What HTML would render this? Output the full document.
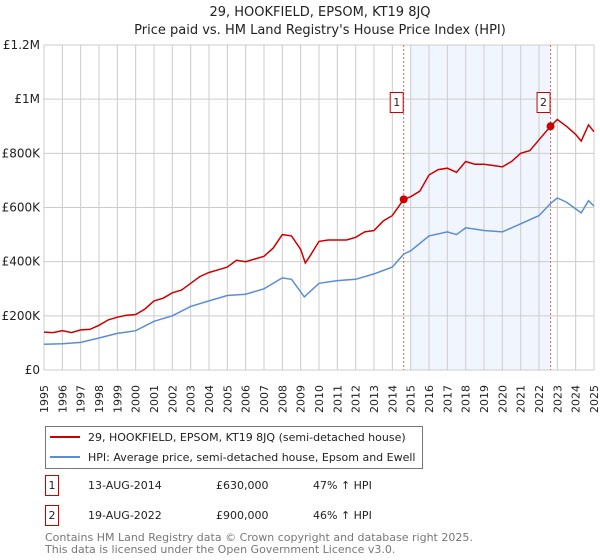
<!DOCTYPE html>
<html><head><meta charset="utf-8"><style>
body{margin:0;background:#fff;font-family:"DejaVu Sans","Liberation Sans",sans-serif}
svg{display:block}
</style></head><body>
<svg id="c" width="600" height="560" xmlns="http://www.w3.org/2000/svg">
<text x="320" y="16" text-anchor="middle" font-size="13" fill="#222">29, HOOKFIELD, EPSOM, KT19 8JQ</text>
<text x="320" y="34" text-anchor="middle" font-size="13" fill="#222">Price paid vs. HM Land Registry's House Price Index (HPI)</text>
<g id="plot"></g>
<g>
<rect x="45.5" y="426.5" width="377" height="42" fill="#fff" stroke="#777"/>
<line x1="50" y1="437" x2="80" y2="437" stroke="#cc0000" stroke-width="2"/>
<text x="88" y="441" font-size="11" fill="#222">29, HOOKFIELD, EPSOM, KT19 8JQ (semi-detached house)</text>
<line x1="50" y1="457" x2="80" y2="457" stroke="#5b8dd6" stroke-width="2"/>
<text x="88" y="461" font-size="11" fill="#222">HPI: Average price, semi-detached house, Epsom and Ewell</text>
</g>
<g font-size="11" fill="#222">
<rect x="45.5" y="475.5" width="13" height="20" fill="#fff" stroke="#cc0000"/>
<text x="52" y="489" text-anchor="middle">1</text>
<text x="88" y="489">13-AUG-2014</text><text x="216" y="489">£630,000</text><text x="313" y="489">47% ↑ HPI</text>
<rect x="45.5" y="505.5" width="13" height="20" fill="#fff" stroke="#cc0000"/>
<text x="52" y="519" text-anchor="middle">2</text>
<text x="88" y="519">19-AUG-2022</text><text x="216" y="519">£900,000</text><text x="313" y="519">46% ↑ HPI</text>
</g>
<text x="45" y="541" font-size="11" fill="#777">Contains HM Land Registry data © Crown copyright and database right 2025.</text>
<text x="45" y="553" font-size="11" fill="#777">This data is licensed under the Open Government Licence v3.0.</text>
</svg>
<script>
const redX=[1995,1995.5,1996,1996.5,1997,1997.5,1998,1998.5,1999,1999.5,2000,2000.5,2001,2001.5,2002,2002.5,2003,2003.5,2004,2004.5,2005,2005.5,2006,2006.5,2007,2007.5,2008,2008.5,2009,2009.25,2009.5,2010,2010.5,2011,2011.5,2012,2012.5,2013,2013.5,2014,2014.62,2015,2015.5,2016,2016.5,2017,2017.5,2018,2018.5,2019,2019.5,2020,2020.5,2021,2021.5,2022,2022.63,2023,2023.5,2024,2024.3,2024.7,2025];
const redY=[140,138,145,138,148,150,165,185,195,202,205,225,255,265,285,295,320,345,360,370,380,405,400,410,420,450,500,495,445,395,420,475,480,480,480,490,510,515,550,570,630,640,660,720,740,745,730,770,760,760,755,750,770,800,810,850,900,925,900,870,845,905,880];
const blueX=[1995,1996,1997,1998,1999,2000,2001,2002,2003,2004,2005,2006,2007,2008,2008.5,2009.2,2010,2011,2012,2013,2014,2014.62,2015,2016,2017,2017.5,2018,2019,2020,2021,2022,2022.63,2023,2023.5,2024,2024.3,2024.7,2025];
const blueY=[95,97,102,118,135,145,180,200,235,255,275,280,300,340,335,270,320,330,335,355,380,428,440,495,510,500,525,515,510,540,570,615,635,620,595,580,625,605];
const saleX=[2014.62,2022.63];
const saleY=[630,900];
const yTicks=[0,200,400,600,800,1000,1200];
const yLabels=["£0","£200K","£400K","£600K","£800K","£1M","£1.2M"];
const years=[1995,1996,1997,1998,1999,2000,2001,2002,2003,2004,2005,2006,2007,2008,2009,2010,2011,2012,2013,2014,2015,2016,2017,2018,2019,2020,2021,2022,2023,2024,2025];
const L=44,R=594,T=45,B=370;
const sx=v=>L+(v-1995)/30*(R-L);
const sy=v=>B-v/1200*(B-T);
const NS="http://www.w3.org/2000/svg";
const g=document.getElementById('plot');
function mk(t,a,p){const e=document.createElementNS(NS,t);for(const k in a)e.setAttribute(k,a[k]);(p||g).appendChild(e);return e;}
const sh=mk('rect',{x:sx(2015),y:T,width:sx(saleX[1])-sx(2015),height:B-T,fill:'#eef3fc',opacity:0.8});


years.forEach(y=>{const l=mk('line',{x1:sx(y),x2:sx(y),y1:T,y2:B,stroke:'#ccc','stroke-width':1});


const t=mk('text',{x:0,y:0,transform:`translate(${sx(y)+4},413) rotate(-90)`,'font-size':11,fill:'#222'});


t.textContent=y;});
yTicks.forEach((v,i)=>{const l=mk('line',{x1:L,x2:R,y1:sy(v),y2:sy(v),stroke:'#ccc','stroke-width':1});


const t=mk('text',{x:L-4,y:sy(v)+4,'text-anchor':'end','font-size':12,fill:'#222'});


t.textContent=yLabels[i];});
saleX.forEach((x,i)=>{const l=mk('line',{x1:sx(x),x2:sx(x),y1:T,y2:B,stroke:'#e06060','stroke-dasharray':'2,2','stroke-width':1});


const r=mk('rect',{x:sx(x)-13.5,y:92.5,width:13,height:20,fill:'#fff',stroke:'#cc0000'});


const t=mk('text',{x:sx(x)-7,y:106,'text-anchor':'middle','font-size':11,fill:'#222'});


t.textContent=i+1;});
const pb=mk('path',{d:blueX.map((x,i)=>(i?'L':'M')+sx(x).toFixed(1)+','+sy(blueY[i]).toFixed(1)).join(''),fill:'none',stroke:'#5b8dd6','stroke-width':1.5});


const pr=mk('path',{d:redX.map((x,i)=>(i?'L':'M')+sx(x).toFixed(1)+','+sy(redY[i]).toFixed(1)).join(''),fill:'none',stroke:'#cc0000','stroke-width':1.5});


saleX.forEach((x,i)=>{const c=mk('circle',{cx:sx(x),cy:sy(saleY[i]),r:4,fill:'#cc0000'});

});
</script>
</body></html>
